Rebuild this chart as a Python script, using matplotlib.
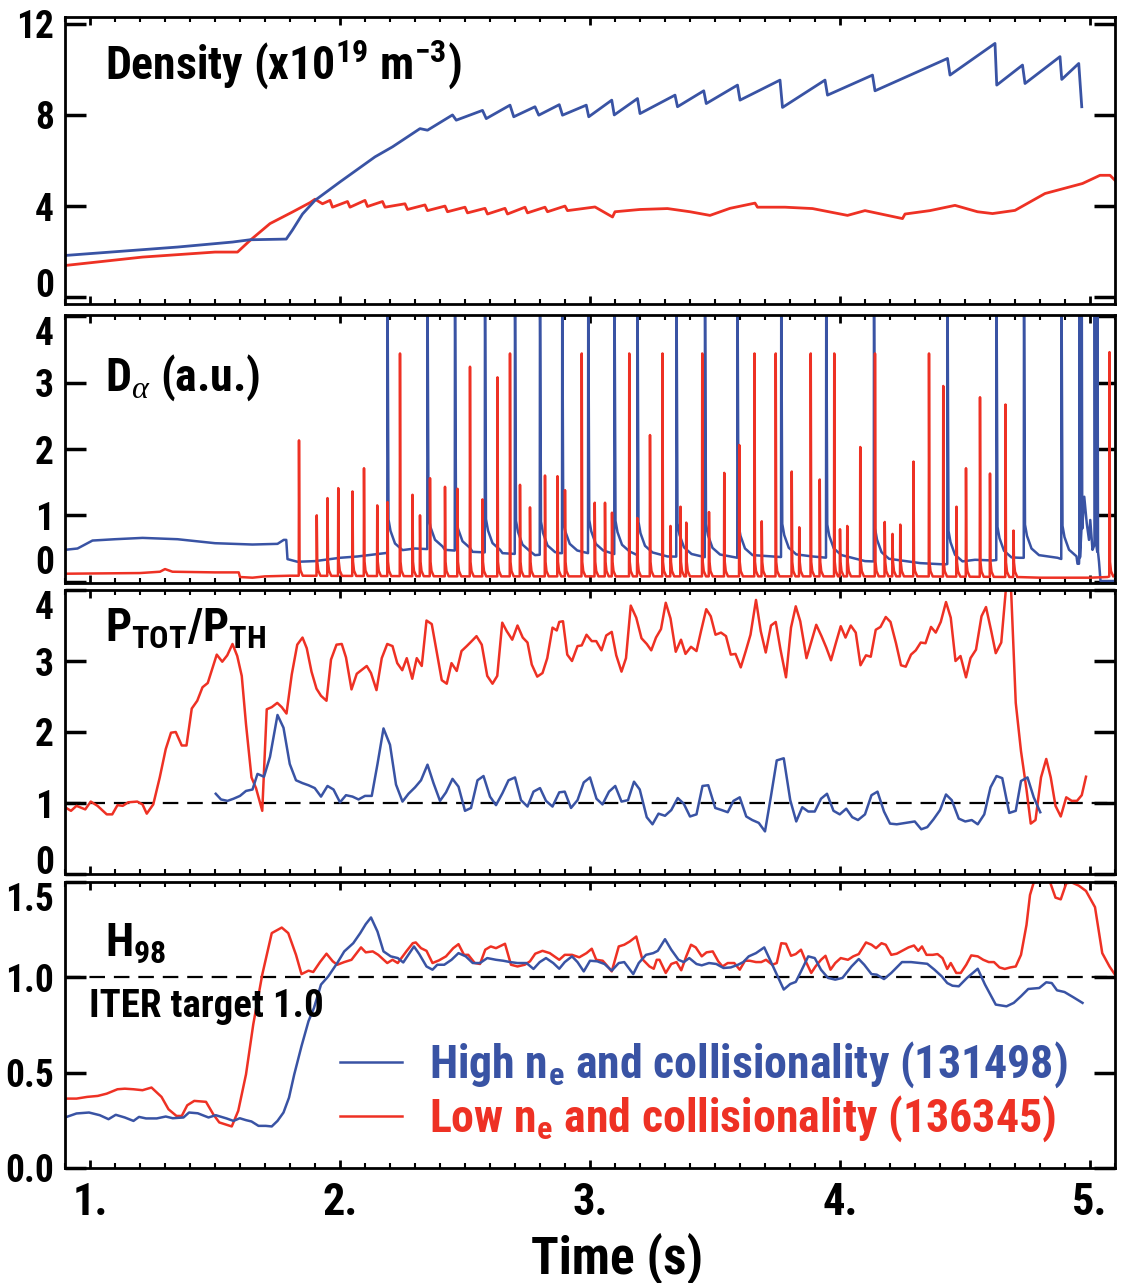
import numpy as np
import matplotlib
matplotlib.use("Agg")
import matplotlib.pyplot as plt
from matplotlib import font_manager
from matplotlib.ticker import FixedLocator, MultipleLocator, FixedFormatter

# ---- pick a narrow bold sans font ----
entries = font_manager.fontManager.ttflist
FONT, STRETCH, SCALE = 'Liberation Sans', 'normal', 0.86
found = False
for fam in ['Liberation Sans Narrow', 'Roboto Condensed', 'Open Sans Condensed']:
    if any(e.name == fam for e in entries):
        FONT, STRETCH, SCALE = fam, 'normal', 1.0
        found = True
        break
if not found:
    for fam in ['DejaVu Sans', 'Noto Sans', 'Roboto', 'Open Sans', 'Liberation Sans']:
        if any(e.name == fam and 'condensed' in str(e.stretch) for e in entries):
            FONT, STRETCH, SCALE = fam, 'condensed', 1.0
            found = True
            break

plt.rcParams['font.family'] = [FONT, 'DejaVu Sans']
plt.rcParams['font.weight'] = 'bold'
plt.rcParams['font.stretch'] = STRETCH
plt.rcParams['mathtext.fontset'] = 'custom'
plt.rcParams['mathtext.rm'] = FONT + ':weight=bold:stretch=' + STRETCH
plt.rcParams['mathtext.bf'] = FONT + ':weight=bold:stretch=' + STRETCH
plt.rcParams['mathtext.it'] = FONT + ':weight=bold:stretch=' + STRETCH
plt.rcParams['mathtext.sf'] = 'Liberation Serif:style=italic:weight=normal:stretch=normal'

BLUE = '#3953a4'
RED = '#ee3124'

# ---------------- data ----------------
xlim = (0.9, 5.1)
x_ticks = [1, 2, 3, 4, 5]
x_ticklabels = ['1.', '2.', '3.', '4.', '5.']

# Density (1e19 m^-3)
dens_blue_t = [0.90, 1.35, 1.57, 1.64, 1.785, 1.81, 1.85, 1.90, 2.00, 2.14, 2.21, 2.32, 2.35,
               2.45, 2.465, 2.57, 2.585, 2.68, 2.695, 2.78, 2.795, 2.877, 2.89, 2.985, 2.995,
               3.087, 3.097, 3.19, 3.20, 3.34, 3.35, 3.455, 3.465, 3.59, 3.60, 3.76, 3.77,
               3.94, 3.95, 4.13, 4.14, 4.43, 4.44, 4.62, 4.627, 4.73, 4.74, 4.88, 4.887,
               4.955, 4.967]
dens_blue_v = [1.83, 2.20, 2.42, 2.52, 2.55, 2.95, 3.65, 4.25, 5.06, 6.16, 6.60, 7.40, 7.33,
               8.00, 7.77, 8.20, 7.84, 8.43, 7.92, 8.36, 7.99, 8.45, 7.99, 8.43, 7.92,
               8.65, 8.00, 8.72, 8.06, 8.87, 8.36, 9.06, 8.50, 9.31, 8.65, 9.53, 8.33,
               9.53, 8.87, 9.75, 9.06, 10.48, 9.75, 11.14, 9.31, 10.19, 9.38, 10.56, 9.56,
               10.26, 8.36]
dens_red_t = [0.90, 1.21, 1.50, 1.59, 1.64, 1.72, 1.81, 1.88, 1.90, 1.93, 1.96, 1.97, 2.03, 2.04,
              2.10, 2.11, 2.17, 2.18, 2.26, 2.27, 2.34, 2.35, 2.42, 2.43, 2.50, 2.51, 2.58, 2.59,
              2.66, 2.67, 2.74, 2.75, 2.82, 2.83, 2.90, 2.91, 3.02, 3.09, 3.10, 3.20, 3.31, 3.40,
              3.48, 3.56, 3.66, 3.67, 3.78, 3.89, 4.03, 4.10, 4.25, 4.26, 4.36, 4.46, 4.55, 4.61,
              4.70, 4.82, 4.97, 5.04, 5.08, 5.10]
dens_red_v = [1.39, 1.76, 1.98, 1.98, 2.49, 3.23, 3.74, 4.15, 4.30, 4.10, 4.25, 3.95, 4.20, 3.95,
              4.25, 3.98, 4.20, 3.95, 4.10, 3.85, 4.05, 3.80, 4.00, 3.75, 3.95, 3.70, 3.90, 3.65,
              3.90, 3.65, 3.95, 3.70, 3.95, 3.75, 4.00, 3.80, 3.96, 3.52, 3.75, 3.85, 3.89, 3.75,
              3.59, 3.90, 4.13, 3.95, 3.95, 3.89, 3.59, 3.80, 3.45, 3.65, 3.80, 4.03, 3.75, 3.67,
              3.81, 4.55, 4.99, 5.35, 5.35, 5.13]

# D-alpha (a.u.)
da_blue_base_t = [0.90, 0.95, 1.01, 1.10, 1.21, 1.35, 1.50, 1.65, 1.75, 1.775, 1.785, 1.79, 1.83,
                  1.90, 2.00, 2.07, 2.18, 2.30, 2.42, 2.53, 2.65, 2.78, 2.88, 3.02, 3.31, 3.60,
                  3.89, 4.10, 4.32, 4.42, 4.54, 4.61, 4.72, 4.87, 4.95, 4.956,
                  4.977, 4.987, 4.996, 5.001, 5.010, 5.024, 5.036, 5.042, 5.10]
da_blue_base_v = [0.48, 0.50, 0.62, 0.64, 0.66, 0.64, 0.58, 0.56, 0.57, 0.63, 0.63, 0.34, 0.30,
                  0.31, 0.36, 0.38, 0.43, 0.50, 0.48, 0.45, 0.43, 0.40, 0.43, 0.43, 0.38, 0.36,
                  0.38, 0.31, 0.28, 0.26, 0.33, 0.32, 0.36, 0.36, 0.27, 0.27,
                  1.28, 0.88, 0.63, 0.93, 0.48, 0.60, 0.30, 0.01, 0.01]
da_blue_elm_t = [2.19, 2.35, 2.46, 2.58, 2.70, 2.80, 2.889, 2.993, 3.098, 3.19, 3.346, 3.46,
                 3.59, 3.765, 3.945, 4.136, 4.43, 4.626, 4.736, 4.886]
da_blue_elm_h = [4.6, 4.6, 4.6, 4.6, 4.6, 4.6, 4.6, 4.6, 4.6, 4.6, 4.6, 4.6,
                 4.6, 4.6, 4.6, 4.6, 4.6, 4.6, 4.6, 4.6]
da_blue_end_t = [4.958, 4.967, 5.019, 5.030]
da_blue_end_h = [4.6, 4.6, 4.6, 4.6]

da_red_base_t = [0.90, 1.20, 1.28, 1.30, 1.33, 1.50, 1.595, 1.60, 1.65, 1.70, 1.80, 2.50, 3.50,
                 4.30, 4.70, 4.80, 5.00, 5.07, 5.10]
da_red_base_v = [0.12, 0.13, 0.15, 0.19, 0.15, 0.14, 0.14, 0.07, 0.06, 0.08, 0.09, 0.08, 0.08,
                 0.08, 0.07, 0.06, 0.06, 0.07, 0.10]
da_red_elm_t = [1.836, 1.907, 1.950, 1.993, 2.050, 2.096, 2.149, 2.190, 2.240, 2.290, 2.320,
                2.360, 2.420, 2.470, 2.520, 2.570, 2.630, 2.680, 2.720, 2.760, 2.820, 2.870,
                2.900, 2.967, 3.019, 3.060, 3.088, 3.157, 3.189, 3.240, 3.290, 3.322, 3.362,
                3.385, 3.449, 3.476, 3.537, 3.597, 3.658, 3.687, 3.743, 3.807, 3.837, 3.883,
                3.919, 3.977, 4.000, 4.029, 4.081, 4.140, 4.179, 4.210, 4.241, 4.294, 4.356,
                4.413, 4.466, 4.504, 4.560, 4.600, 4.662, 4.694, 5.078]
da_red_elm_h = [2.13, 1.00, 1.26, 1.41, 1.36, 1.71, 1.15, 1.20, 3.44, 1.31, 1.00,
                1.56, 1.43, 1.40, 3.24, 1.24, 3.08, 3.44, 1.46, 1.12, 1.60, 1.59,
                1.38, 3.44, 1.19, 1.19, 1.04, 3.44, 0.96, 2.21, 3.44, 0.84, 1.13,
                0.89, 3.44, 1.05, 1.64, 2.06, 3.44, 0.91, 3.44, 1.66, 0.82, 3.44,
                1.54, 3.44, 0.79, 0.84, 2.03, 3.44, 0.90, 0.72, 0.86, 1.81, 3.44,
                2.95, 1.13, 1.71, 2.78, 1.63, 2.67, 0.77, 3.46]

# P_TOT / P_TH
pt_red_t = [0.900, 0.924, 0.946, 0.981, 1.003, 1.030, 1.067, 1.089, 1.110, 1.131, 1.153, 1.189,
            1.210, 1.227, 1.253, 1.279, 1.303, 1.324, 1.343, 1.367, 1.386, 1.407, 1.429, 1.450,
            1.471, 1.507, 1.529, 1.549, 1.570, 1.589, 1.607, 1.624, 1.646, 1.664, 1.689, 1.707,
            1.727, 1.749, 1.767, 1.786, 1.807, 1.829, 1.850, 1.867, 1.886, 1.906, 1.924, 1.946,
            1.964, 1.986, 2.007, 2.024, 2.046, 2.067, 2.089, 2.107, 2.124, 2.146, 2.167, 2.189,
            2.210, 2.229, 2.249, 2.267, 2.289, 2.307, 2.327, 2.346, 2.367, 2.389, 2.407, 2.427,
            2.446, 2.467, 2.486, 2.507, 2.524, 2.546, 2.567, 2.589, 2.610, 2.629, 2.649, 2.667,
            2.689, 2.710, 2.731, 2.750, 2.767, 2.789, 2.810, 2.829, 2.850, 2.867,
            2.877, 2.892, 2.909, 2.928, 2.950, 2.967, 2.986, 3.007, 3.025, 3.046, 3.065, 3.087,
            3.105, 3.126, 3.144, 3.163, 3.185, 3.206, 3.227, 3.245, 3.264, 3.284, 3.303, 3.322,
            3.343, 3.364, 3.382, 3.404, 3.426, 3.444, 3.465, 3.483, 3.502, 3.524, 3.544, 3.563,
            3.582, 3.603, 3.623, 3.642, 3.664, 3.683, 3.703, 3.724, 3.743, 3.762, 3.784, 3.804,
            3.823, 3.841, 3.866, 3.885, 3.905, 3.926, 3.945, 3.964, 3.984, 4.003, 4.022, 4.043,
            4.063, 4.082, 4.104, 4.123, 4.143, 4.162, 4.183, 4.202, 4.224, 4.244, 4.263, 4.284,
            4.303, 4.323, 4.342, 4.364, 4.383, 4.403, 4.424, 4.443, 4.462, 4.482, 4.504, 4.522,
            4.544, 4.566, 4.584, 4.605, 4.623, 4.645, 4.664, 4.674, 4.684, 4.703, 4.724, 4.746,
            4.763, 4.782, 4.804, 4.825, 4.843, 4.862, 4.883, 4.905, 4.927, 4.948, 4.967, 4.984]
pt_red_v = [0.94, 0.89, 0.96, 0.91, 1.02, 0.96, 0.84, 0.84, 0.97, 0.96, 1.01, 1.02,
            0.98, 0.85, 0.98, 1.36, 1.76, 1.99, 2.00, 1.81, 1.81, 2.33, 2.44, 2.63,
            2.69, 3.09, 2.99, 3.08, 3.24, 3.07, 2.79, 2.11, 1.36, 1.21, 0.89, 2.32,
            2.35, 2.41, 2.35, 2.26, 2.81, 3.23, 3.33, 3.18, 2.85, 2.61, 2.51, 2.44,
            3.02, 3.23, 3.24, 3.05, 2.60, 2.82, 2.88, 2.93, 2.83, 2.59, 3.04, 3.24,
            3.21, 2.97, 2.87, 3.04, 2.75, 3.04, 2.93, 3.57, 3.52, 3.09, 2.73, 2.68,
            2.97, 2.86, 3.14, 3.21, 3.27, 3.35, 3.23, 2.79, 2.68, 2.79, 3.54, 3.42,
            3.30, 3.50, 3.33, 3.26, 2.95, 2.78, 2.83, 3.04, 3.47, 3.43,
            3.55, 3.56, 3.09, 3.00, 3.21, 3.22, 3.37, 3.28, 3.28, 3.15, 3.36, 3.41,
            3.08, 2.85, 3.04, 3.78, 3.61, 3.32, 3.24, 3.15, 3.33, 3.45, 3.82, 3.60,
            3.13, 3.30, 3.10, 3.20, 3.14, 3.42, 3.73, 3.63, 3.37, 3.40, 3.35, 3.09,
            3.10, 2.91, 3.14, 3.37, 3.86, 3.42, 3.12, 3.50, 3.55, 3.16, 2.77, 3.47,
            3.77, 3.56, 3.04, 3.27, 3.51, 3.35, 3.19, 3.01, 3.26, 3.49, 3.33, 3.50,
            3.40, 2.94, 3.08, 3.06, 3.44, 3.48, 3.62, 3.55, 3.25, 2.94, 2.92, 3.09,
            3.15, 3.26, 3.25, 3.48, 3.40, 3.55, 3.83, 3.61, 3.00, 3.07, 2.77, 3.04,
            3.16, 3.63, 3.76, 3.42, 3.11, 3.26, 4.03, 4.50, 4.03, 2.41, 1.73, 1.19,
            0.71, 0.76, 1.36, 1.62, 1.36, 0.96, 0.81, 1.08, 1.03, 1.03, 1.11, 1.37]
pt_blue_t = [1.503, 1.524, 1.550, 1.574, 1.600, 1.624, 1.650, 1.670, 1.696, 1.720, 1.750, 1.774,
             1.799, 1.824, 1.850, 1.874, 1.899, 1.924, 1.950, 1.974, 2.000, 2.024, 2.050, 2.074,
             2.100, 2.127, 2.150, 2.174, 2.200, 2.224, 2.250, 2.274, 2.300, 2.324, 2.350, 2.374,
             2.400, 2.424, 2.450, 2.474, 2.500, 2.524, 2.550, 2.574, 2.600, 2.624, 2.650, 2.674,
             2.700, 2.724, 2.750, 2.774, 2.800, 2.824, 2.850,
             2.877, 2.899, 2.924, 2.950, 2.975, 3.000, 3.026, 3.050, 3.076, 3.101, 3.126, 3.152,
             3.176, 3.199, 3.227, 3.250, 3.274, 3.300, 3.325, 3.351, 3.375, 3.400, 3.426, 3.450,
             3.473, 3.501, 3.527, 3.551, 3.574, 3.599, 3.625, 3.649, 3.675, 3.700, 3.724, 3.747,
             3.775, 3.801, 3.825, 3.849, 3.873, 3.899, 3.924, 3.948, 3.974, 3.999, 4.025, 4.049,
             4.072, 4.100, 4.126, 4.150, 4.176, 4.200, 4.227, 4.299, 4.325, 4.349, 4.374, 4.400,
             4.424, 4.447, 4.475, 4.501, 4.527, 4.551, 4.577, 4.602, 4.626, 4.649, 4.677, 4.703,
             4.724, 4.750, 4.775, 4.801]
pt_blue_v = [1.13, 1.05, 1.03, 1.06, 1.10, 1.17, 1.19, 1.41, 1.37, 1.65, 2.24, 2.06,
             1.55, 1.32, 1.28, 1.25, 1.21, 1.09, 1.24, 1.19, 1.01, 1.11, 1.09, 1.05,
             1.10, 1.10, 1.55, 2.05, 1.82, 1.26, 1.02, 1.13, 1.22, 1.32, 1.54, 1.28,
             1.03, 1.15, 1.34, 1.23, 0.89, 0.93, 1.32, 1.38, 1.09, 0.97, 1.14, 1.32,
             1.36, 1.04, 0.95, 1.16, 1.21, 1.03, 0.95,
             1.15, 1.16, 0.93, 1.04, 1.29, 1.36, 1.06, 0.98, 1.16, 1.24, 1.02, 1.04,
             1.30, 1.19, 0.80, 0.70, 0.85, 0.82, 0.90, 1.07, 0.99, 0.81, 0.84, 1.24,
             1.25, 0.93, 0.90, 0.87, 1.03, 1.08, 0.81, 0.76, 0.72, 0.60, 1.10, 1.60,
             1.63, 1.04, 0.74, 0.94, 0.88, 0.88, 1.06, 1.13, 0.89, 0.84, 0.92, 0.80,
             0.76, 0.84, 1.11, 1.16, 0.88, 0.71, 0.70, 0.74, 0.63, 0.66, 0.77, 0.90,
             1.12, 1.04, 0.78, 0.74, 0.76, 0.70, 0.84, 1.22, 1.38, 1.35, 0.86, 0.89,
             1.31, 1.36, 1.08, 0.87]

# H98
h_red_t = [0.900, 0.946, 0.989, 1.031, 1.067, 1.110, 1.139, 1.174, 1.210, 1.246, 1.286, 1.314,
           1.346, 1.367, 1.389, 1.417, 1.464, 1.493, 1.517, 1.567, 1.593, 1.624, 1.653, 1.689,
           1.727, 1.767, 1.793, 1.824, 1.846, 1.874, 1.893, 1.920, 1.946, 1.971, 1.989, 2.017,
           2.046, 2.084, 2.103, 2.131, 2.153, 2.189, 2.210, 2.231, 2.267, 2.291, 2.303, 2.324,
           2.346, 2.370, 2.396, 2.424, 2.453, 2.474, 2.496, 2.513, 2.539, 2.560, 2.581, 2.603,
           2.624, 2.660, 2.684, 2.710, 2.739, 2.760, 2.781, 2.810, 2.839,
           2.877, 2.899, 2.928, 2.957, 2.986, 3.007, 3.025, 3.051, 3.065, 3.087, 3.115, 3.137,
           3.159, 3.185, 3.209, 3.238, 3.255, 3.267, 3.278, 3.303, 3.325, 3.346, 3.365, 3.385,
           3.404, 3.423, 3.447, 3.466, 3.491, 3.513, 3.530, 3.551, 3.577, 3.599, 3.620, 3.639,
           3.664, 3.685, 3.704, 3.729, 3.747, 3.765, 3.784, 3.804, 3.823, 3.844, 3.863, 3.885,
           3.902, 3.924, 3.942, 3.962, 3.981, 4.003, 4.032, 4.053, 4.075, 4.104, 4.126, 4.144,
           4.166, 4.183, 4.205, 4.227, 4.248, 4.274, 4.296, 4.313, 4.328, 4.346, 4.371, 4.390,
           4.410, 4.429, 4.443, 4.465, 4.483, 4.505, 4.525, 4.551, 4.573, 4.595, 4.616, 4.638,
           4.659, 4.681, 4.703, 4.724, 4.746, 4.760, 4.775, 4.811, 4.840, 4.862, 4.883, 4.905,
           4.926, 4.955, 4.984, 5.020, 5.049, 5.078, 5.100]
h_red_v = [0.364, 0.364, 0.373, 0.378, 0.390, 0.413, 0.416, 0.413, 0.408, 0.422, 0.373, 0.308,
           0.273, 0.273, 0.329, 0.352, 0.347, 0.282, 0.239, 0.218, 0.300, 0.491, 0.753, 1.014,
           1.232, 1.261, 1.232, 1.118, 1.017, 1.035, 1.028, 1.080, 1.124, 1.084, 1.066, 1.080,
           1.092, 1.157, 1.131, 1.136, 1.118, 1.075, 1.092, 1.075, 1.139, 1.179, 1.183, 1.153,
           1.139, 1.075, 1.089, 1.110, 1.153, 1.174, 1.118, 1.118, 1.075, 1.070, 1.145, 1.162,
           1.153, 1.176, 1.066, 1.057, 1.066, 1.084, 1.124, 1.139, 1.127,
           1.092, 1.118, 1.118, 1.105, 1.127, 1.150, 1.092, 1.087, 1.066, 1.031, 1.162, 1.171,
           1.188, 1.214, 1.096, 1.057, 1.045, 1.092, 1.092, 1.023, 1.070, 1.080, 1.037, 1.110,
           1.171, 1.157, 1.110, 1.131, 1.136, 1.084, 1.057, 1.075, 1.075, 1.040, 1.087, 1.087,
           1.080, 1.080, 1.092, 1.066, 1.075, 1.179, 1.176, 1.113, 1.122, 1.145, 1.084, 1.023,
           1.057, 1.092, 1.113, 1.040, 1.075, 1.101, 1.092, 1.110, 1.122, 1.183, 1.171, 1.153,
           1.179, 1.171, 1.118, 1.124, 1.139, 1.157, 1.167, 1.139, 1.162, 1.118, 1.118, 1.122,
           1.101, 1.044, 1.075, 1.023, 1.023, 1.066, 1.115, 1.110, 1.092, 1.080, 1.080, 1.052,
           1.044, 1.052, 1.057, 1.118, 1.275, 1.432, 1.498, 1.510, 1.500, 1.418, 1.409, 1.493,
           1.498, 1.481, 1.453, 1.368, 1.127, 1.057, 1.014]
h_blue_t = [0.900, 0.946, 0.996, 1.039, 1.074, 1.103, 1.139, 1.174, 1.196, 1.224, 1.267, 1.303,
            1.331, 1.374, 1.396, 1.431, 1.474, 1.503, 1.546, 1.574, 1.599, 1.624, 1.646, 1.674,
            1.703, 1.727, 1.750, 1.774, 1.796, 1.817, 1.846, 1.874, 1.896, 1.924, 1.953, 1.989,
            2.017, 2.053, 2.081, 2.103, 2.124, 2.150, 2.174, 2.203, 2.231, 2.253, 2.296, 2.317,
            2.346, 2.370, 2.389, 2.417, 2.446, 2.474, 2.503, 2.531, 2.560, 2.589, 2.624, 2.653,
            2.681, 2.710, 2.746, 2.774, 2.799, 2.824, 2.853,
            2.877, 2.899, 2.928, 2.950, 2.975, 3.000, 3.029, 3.058, 3.087, 3.115, 3.137, 3.173,
            3.195, 3.224, 3.253, 3.271, 3.300, 3.325, 3.354, 3.375, 3.397, 3.426, 3.447, 3.476,
            3.505, 3.534, 3.563, 3.592, 3.613, 3.635, 3.664, 3.697, 3.729, 3.747, 3.775, 3.801,
            3.823, 3.844, 3.873, 3.899, 3.924, 3.952, 3.981, 4.010, 4.046, 4.075, 4.097, 4.126,
            4.147, 4.176, 4.205, 4.248, 4.284, 4.320, 4.349, 4.378, 4.407, 4.429, 4.450, 4.475,
            4.508, 4.551, 4.580, 4.623, 4.666, 4.695, 4.724, 4.753, 4.797, 4.825, 4.847, 4.868,
            4.898, 4.934, 4.970]
h_blue_v = [0.265, 0.286, 0.291, 0.277, 0.256, 0.279, 0.265, 0.247, 0.268, 0.260, 0.260, 0.270,
            0.261, 0.265, 0.291, 0.287, 0.265, 0.277, 0.260, 0.247, 0.261, 0.251, 0.244, 0.221,
            0.221, 0.218, 0.247, 0.291, 0.369, 0.491, 0.639, 0.770, 0.840, 0.962, 1.005, 1.075,
            1.136, 1.179, 1.232, 1.279, 1.314, 1.240, 1.136, 1.110, 1.101, 1.078, 1.162, 1.122,
            1.057, 1.040, 1.066, 1.066, 1.092, 1.127, 1.110, 1.075, 1.075, 1.101, 1.092, 1.087,
            1.080, 1.075, 1.075, 1.044, 1.080, 1.101, 1.075,
            1.045, 1.080, 1.110, 1.080, 1.031, 1.087, 1.084, 1.070, 1.035, 1.075, 1.080, 1.017,
            1.075, 1.118, 1.127, 1.139, 1.200, 1.145, 1.092, 1.080, 1.101, 1.070, 1.063, 1.075,
            1.070, 1.049, 1.052, 1.066, 1.080, 1.110, 1.127, 1.157, 1.066, 1.014, 0.936, 0.965,
            0.976, 1.031, 1.110, 1.101, 1.040, 0.997, 0.988, 0.997, 1.057, 1.096, 1.066, 1.017,
            1.014, 0.991, 1.023, 1.080, 1.080, 1.075, 1.071, 1.040, 1.005, 0.970, 0.956, 0.953,
            0.997, 1.045, 0.962, 0.857, 0.848, 0.866, 0.901, 0.939, 0.944, 0.974, 0.970, 0.932,
            0.923, 0.895, 0.866]

labels = ['High n$_{\\mathrm{e}}$ and collisionality (131498)',
          'Low n$_{\\mathrm{e}}$ and collisionality (136345)']

# tail templates (spike shape after the peak): (dt, excess above foot)
BLUE_TAIL = [(0.004, 0.50), (0.012, 0.33), (0.03, 0.14), (0.06, 0.04)]
RED_TAIL = [(0.002, 0.22), (0.006, 0.08), (0.015, 0.0)]


def spiky(bt, bv, groups):
    pts = list(zip(bt, bv))
    for times, heights, tail in groups:
        for ts, h in zip(times, heights):
            foot = float(np.interp(ts, bt, bv))
            end = ts + (tail[-1][0] if tail else 0.0)
            pts = [p for p in pts if not (ts - 0.001 <= p[0] <= end)]
            pts.append((ts - 0.001, foot))
            pts.append((ts, h))
            if tail:
                for dt, ex in tail:
                    pts.append((ts + dt, foot + ex))
            else:
                pts.append((ts + 0.002, foot))
    pts.sort(key=lambda p: p[0])
    return [p[0] for p in pts], [p[1] for p in pts]


# ---------------- figure ----------------
fig = plt.figure(figsize=(11.26, 12.83), dpi=100)
L, W = 65 / 1126, 1050 / 1126
H = 1283.0
panels = [(17, 304), (315, 583), (590, 874), (882, 1168)]
axes = []
for top, bot in panels:
    axes.append(fig.add_axes([L, 1 - bot / H, W, (bot - top) / H]))

LW = 1.8
ax1, ax2, ax3, ax4 = axes

ax1.plot(dens_red_t, dens_red_v, color=RED, lw=2.0)
ax1.plot(dens_blue_t, dens_blue_v, color=BLUE, lw=2.0)
ax1.set_ylim(-0.3, 12.3)

bt, bv = spiky(da_blue_base_t, da_blue_base_v,
               [(da_blue_elm_t, da_blue_elm_h, BLUE_TAIL), (da_blue_end_t, da_blue_end_h, None)])
rt, rv = spiky(da_red_base_t, da_red_base_v, [(da_red_elm_t, da_red_elm_h, RED_TAIL)])
ax2.plot(bt, bv, color=BLUE, lw=LW)
ax2.plot(rt, rv, color=RED, lw=LW)
ax2.set_ylim(-0.02, 4.02)

ax3.axhline(1.0, color='black', lw=1.6, ls=(0, (7, 4)))
ax3.plot(pt_red_t, pt_red_v, color=RED, lw=LW)
ax3.plot(pt_blue_t, pt_blue_v, color=BLUE, lw=LW)
ax3.set_ylim(0, 4)

ax4.axhline(1.0, color='black', lw=1.6, ls=(0, (7, 4)))
lr, = ax4.plot(h_red_t, h_red_v, color=RED, lw=LW)
lb, = ax4.plot(h_blue_t, h_blue_v, color=BLUE, lw=LW)
ax4.set_ylim(0, 1.5)

yt = [([0, 4, 8, 12], ['0', '4', '8', '12']),
      ([0, 1, 2, 3, 4], ['0', '1', '2', '3', '4']),
      ([0, 1, 2, 3, 4], ['0', '1', '2', '3', '4']),
      ([0, 0.5, 1.0, 1.5], ['0.0', '0.5', '1.0', '1.5'])]

for i, ax in enumerate(axes):
    ax.set_xlim(*xlim)
    ax.xaxis.set_major_locator(FixedLocator(x_ticks))
    ax.xaxis.set_minor_locator(MultipleLocator(0.1))
    ax.yaxis.set_major_locator(FixedLocator(yt[i][0]))
    ax.yaxis.set_major_formatter(FixedFormatter(yt[i][1]))
    ax.tick_params(which='both', direction='in', top=True, right=True, bottom=True, left=True)
    ax.tick_params(axis='x', which='major', length=6, width=2)
    ax.tick_params(axis='x', which='minor', length=3.5, width=1.5)
    ax.tick_params(axis='y', which='major', length=15, width=2.5, labelsize=27 * SCALE, pad=8)
    for s in ax.spines.values():
        s.set_linewidth(2)
    if i < 3:
        ax.tick_params(axis='x', labelbottom=False)
    for lab in ax.get_yticklabels():
        lab.set_fontweight('bold')

ax1.get_yticklabels()[0].set_va('baseline')
ax2.get_yticklabels()[-1].set_va('top')
ax2.get_yticklabels()[0].set_va('bottom')
ax3.get_yticklabels()[-1].set_va('top')
ax3.get_yticklabels()[0].set_va('baseline')
ax4.get_yticklabels()[-1].set_va('top')

ax4.xaxis.set_major_formatter(FixedFormatter(x_ticklabels))
ax4.tick_params(axis='x', labelsize=32 * SCALE, pad=10)
for lab in ax4.get_xticklabels():
    lab.set_fontweight('bold')
ax4.set_xlabel('Time (s)', fontsize=37 * SCALE, fontweight='bold')
ax4.xaxis.label.set_va('baseline')
ax4.xaxis.set_label_coords(0.526, -(1273 - 1168) / 286.0)

TS = 33 * SCALE
ax1.text(0.038, 0.78, 'Density (x10$^{\\mathrm{19}}$ m$^{\\mathrm{-3}}$)', transform=ax1.transAxes,
         fontsize=TS, fontweight='bold', va='baseline')
ax2.text(0.038, 0.716, 'D$_{\\mathsf{\\alpha}}$ (a.u.)', transform=ax2.transAxes,
         fontsize=TS, fontweight='bold', va='baseline')
ax3.text(0.038, 0.817, 'P$_{\\mathrm{TOT}}$/P$_{\\mathrm{TH}}$', transform=ax3.transAxes,
         fontsize=TS, fontweight='bold', va='baseline')
ax4.text(0.038, 0.738, 'H$_{\\mathrm{98}}$', transform=ax4.transAxes,
         fontsize=TS, fontweight='bold', va='baseline')
ax4.text(0.023, 0.528, 'ITER target 1.0', transform=ax4.transAxes,
         fontsize=28 * SCALE, fontweight='bold', va='baseline')

leg = ax4.legend([lb, lr], labels, loc='upper left', bbox_to_anchor=(0.262, 0.45),
                 frameon=False, handlelength=1.35 / SCALE, handletextpad=0.6 / SCALE,
                 labelspacing=0.08, borderpad=0, borderaxespad=0, labelcolor='linecolor',
                 prop={'family': FONT, 'weight': 'bold', 'size': 33 * SCALE, 'stretch': STRETCH})

fig.savefig('out.png', dpi=100)
